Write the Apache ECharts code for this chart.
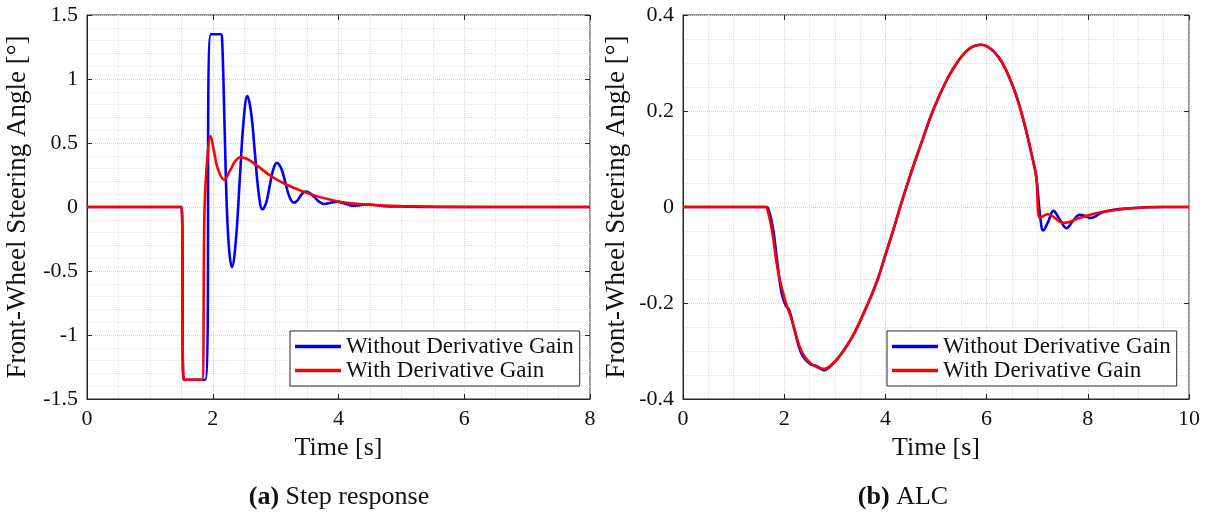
<!DOCTYPE html>
<html>
<head>
<meta charset="utf-8">
<script src="https://cdn.jsdelivr.net/npm/echarts@6/dist/echarts.min.js"></script>
<style>
html,body{margin:0;padding:0;background:#fff;}
#chart{width:1210px;height:514px;}
</style>
</head>
<body>
<div id="chart"></div>
<script>
// ---------- Data ----------
const seriesNames = ['Without Derivative Gain', 'With Derivative Gain'];

// (a) Step response
const stepTicksX = [0, 2, 4, 6, 8];
const stepTicksY = [-1.5, -1, -0.5, 0, 0.5, 1, 1.5];
const stepBlueT = [0, 1.5, 1.54, 1.88, 1.97, 2.13, 2.15, 2.19, 2.22, 2.26, 2.305, 2.366, 2.428, 2.49, 2.55, 2.61, 2.67, 2.73, 2.79, 2.85, 2.905, 2.96, 3.02, 3.09, 3.155, 3.22, 3.29, 3.34, 3.385, 3.43, 3.48, 3.55, 3.625, 3.70, 3.77, 3.875, 3.98, 4.105, 4.23, 4.35, 4.47, 4.75, 5.0, 5.5, 8];
const stepBlueY = [0, 0, -1.35, -1.35, 1.35, 1.35, 1.3, 0.6, 0.05, -0.33, -0.47, -0.27, 0.2, 0.67, 0.866, 0.737, 0.424, 0.111, -0.018, 0.035, 0.163, 0.29, 0.345, 0.30, 0.19, 0.08, 0.034, 0.047, 0.078, 0.109, 0.121, 0.107, 0.073, 0.038, 0.024, 0.033, 0.042, 0.026, 0.01, 0.015, 0.02, 0.006, 0.004, 0.001, 0];
const stepRedT = [0, 1.5, 1.54, 1.83, 1.87, 1.92, 1.965, 2.01, 2.08, 2.18, 2.28, 2.36, 2.44, 2.55, 2.7, 2.93, 3.15, 3.41, 3.65, 3.89, 4.1, 4.37, 4.7, 5.0, 5.5, 6, 8];
const stepRedY = [0, 0, -1.35, -1.35, 0.0, 0.42, 0.555, 0.46, 0.3, 0.213, 0.29, 0.36, 0.389, 0.375, 0.325, 0.24, 0.18, 0.126, 0.085, 0.055, 0.035, 0.022, 0.012, 0.007, 0.002, 0, 0];

// (b) ALC
const alcTicksX = [0, 2, 4, 6, 8, 10];
const alcTicksY = [-0.4, -0.2, 0, 0.2, 0.4];
const alcBlueT = [0, 1.65, 1.7, 1.78, 1.87, 1.95, 2.03, 2.1, 2.2, 2.34, 2.5, 2.65, 2.79, 2.95, 3.1, 3.25, 3.4, 3.55, 3.7, 3.85, 4.0, 4.15, 4.3, 4.45, 4.6, 4.75, 4.9, 5.05, 5.2, 5.35, 5.5, 5.65, 5.8, 5.9, 6.0, 6.15, 6.3, 6.45, 6.6, 6.75, 6.9, 6.98, 7.06, 7.12, 7.22, 7.32, 7.44, 7.58, 7.7, 7.84, 7.94, 8.05, 8.32, 8.79, 9.5, 10];
const alcBlueY = [0, 0, -0.008, -0.045, -0.12, -0.18, -0.205, -0.215, -0.255, -0.305, -0.326, -0.332, -0.34, -0.328, -0.31, -0.287, -0.26, -0.226, -0.19, -0.15, -0.1, -0.05, 0.003, 0.053, 0.1, 0.145, 0.19, 0.228, 0.262, 0.29, 0.313, 0.329, 0.337, 0.338, 0.335, 0.323, 0.302, 0.27, 0.228, 0.172, 0.105, 0.064, -0.02, -0.049, -0.03, -0.008, -0.025, -0.044, -0.03, -0.016, -0.018, -0.023, -0.01, -0.003, 0, 0];
const alcRedT = [0, 1.63, 1.68, 1.76, 1.88, 2.02, 2.15, 2.34, 2.54, 2.79, 2.95, 3.1, 3.25, 3.4, 3.55, 3.7, 3.85, 4.0, 4.15, 4.3, 4.45, 4.6, 4.75, 4.9, 5.05, 5.2, 5.35, 5.5, 5.65, 5.8, 5.9, 6.0, 6.15, 6.3, 6.45, 6.6, 6.75, 6.9, 6.98, 7.06, 7.2, 7.53, 7.86, 8.26, 8.79, 9.5, 10];
const alcRedY = [0, 0, -0.01, -0.05, -0.135, -0.195, -0.235, -0.3, -0.327, -0.337, -0.327, -0.31, -0.287, -0.26, -0.226, -0.19, -0.15, -0.1, -0.05, 0.003, 0.053, 0.1, 0.145, 0.19, 0.228, 0.262, 0.29, 0.313, 0.329, 0.337, 0.338, 0.335, 0.323, 0.302, 0.27, 0.228, 0.172, 0.105, 0.064, -0.023, -0.015, -0.033, -0.022, -0.011, -0.003, 0, 0];

// ---------- Styling ----------
const FONT = '"Liberation Serif", "Times New Roman", serif';
const TXT = '#111';
const AXC = '#262626';
const zip = (t, y) => t.map((v, i) => [v, y[i]]);

function mkX(gridIndex, ticks, minorN, main, name) {
  const interval = ticks[1] - ticks[0];
  return {
    type: 'value', gridIndex, position: main ? 'bottom' : 'top',
    min: ticks[0], max: ticks[ticks.length - 1], interval,
    name: main ? name : '', nameLocation: 'middle', nameGap: 48,
    nameTextStyle: { fontFamily: FONT, fontSize: 26, color: TXT, verticalAlign: 'middle' },
    axisLine: { show: main, onZero: false, lineStyle: { color: AXC, width: 1 } },
    axisTick: { show: true, inside: true, length: 5, lineStyle: { color: AXC } },
    axisLabel: { show: main, margin: 9, fontFamily: FONT, fontSize: 22, color: TXT },
    splitLine: { show: main, lineStyle: { type: 'dotted', color: '#cfcfcf', width: 1 } },
    minorTick: { show: false, splitNumber: minorN },
    minorSplitLine: { show: main, lineStyle: { type: 'dotted', color: '#dedede', width: 1 } }
  };
}
function mkY(gridIndex, ticks, minorN, main, name, gap) {
  const interval = +(ticks[1] - ticks[0]).toFixed(6);
  return {
    type: 'value', gridIndex, position: main ? 'left' : 'right',
    min: ticks[0], max: ticks[ticks.length - 1], interval,
    name: main ? name : '', nameLocation: 'middle', nameGap: gap, nameRotate: 90,
    nameTextStyle: { fontFamily: FONT, fontSize: 27, color: TXT, verticalAlign: 'middle' },
    axisLine: { show: main, onZero: false, lineStyle: { color: AXC, width: 1 } },
    axisTick: { show: true, inside: true, length: 5, lineStyle: { color: AXC } },
    axisLabel: { show: main, margin: 9, fontFamily: FONT, fontSize: 22, color: TXT },
    splitLine: { show: main, lineStyle: { type: 'dotted', color: '#cfcfcf', width: 1 } },
    minorTick: { show: false, splitNumber: minorN },
    minorSplitLine: { show: main, lineStyle: { type: 'dotted', color: '#dedede', width: 1 } }
  };
}
function mkLine(name, data, color, xi, yi) {
  return {
    type: 'line', name, data, xAxisIndex: xi, yAxisIndex: yi,
    showSymbol: false, symbol: 'none', smooth: 0.4, animation: false,
    lineStyle: { color, width: 2.6 }, itemStyle: { color }
  };
}
function mkLegend(left) {
  return {
    left, top: 331, orient: 'vertical', icon: 'rect', itemWidth: 46, itemHeight: 3.5,
    itemGap: 1, padding: [4, 6, 4, 5], borderColor: AXC, borderWidth: 1, borderRadius: 0,
    backgroundColor: '#fff', selectedMode: false, data: seriesNames,
    textStyle: { fontFamily: FONT, fontSize: 23, color: TXT, lineHeight: 23 }
  };
}

const yName = 'Front-Wheel Steering Angle [°]';
const option = {
  backgroundColor: '#fff',
  animation: false,
  grid: [
    { left: 87, top: 15, width: 503, height: 384, show: true, borderColor: AXC, borderWidth: 1, backgroundColor: '#fff' },
    { left: 683, top: 15, width: 506, height: 384, show: true, borderColor: AXC, borderWidth: 1, backgroundColor: '#fff' }
  ],
  xAxis: [
    mkX(0, stepTicksX, 4, true, 'Time [s]'),
    mkX(0, stepTicksX, 4, false, ''),
    mkX(1, alcTicksX, 4, true, 'Time [s]'),
    mkX(1, alcTicksX, 4, false, '')
  ],
  yAxis: [
    mkY(0, stepTicksY, 5, true, yName, 69),
    mkY(0, stepTicksY, 5, false, '', 0),
    mkY(1, alcTicksY, 4, true, yName, 66),
    mkY(1, alcTicksY, 4, false, '', 0)
  ],
  legend: [mkLegend(290), mkLegend(887)],
  series: [
    mkLine(seriesNames[0], zip(stepBlueT, stepBlueY), '#0000ff', 0, 0),
    mkLine(seriesNames[1], zip(stepRedT, stepRedY), '#ff0000', 0, 0),
    mkLine(seriesNames[0], zip(alcBlueT, alcBlueY), '#0000ff', 2, 2),
    mkLine(seriesNames[1], zip(alcRedT, alcRedY), '#ff0000', 2, 2)
  ],
  graphic: [
    { type: 'text', x: 339, y: 497, style: { text: '{b|(a)} Step response', align: 'center', verticalAlign: 'middle',
      fontFamily: FONT, fontSize: 26, fill: TXT,
      rich: { b: { fontFamily: FONT, fontSize: 26, fontWeight: 'bold', fill: TXT } } } },
    { type: 'text', x: 903, y: 497, style: { text: '{b|(b)} ALC', align: 'center', verticalAlign: 'middle',
      fontFamily: FONT, fontSize: 26, fill: TXT,
      rich: { b: { fontFamily: FONT, fontSize: 26, fontWeight: 'bold', fill: TXT } } } }
  ]
};
const chart = echarts.init(document.getElementById('chart'), null, { renderer: 'canvas' });
chart.setOption(option);
</script>
</body>
</html>
